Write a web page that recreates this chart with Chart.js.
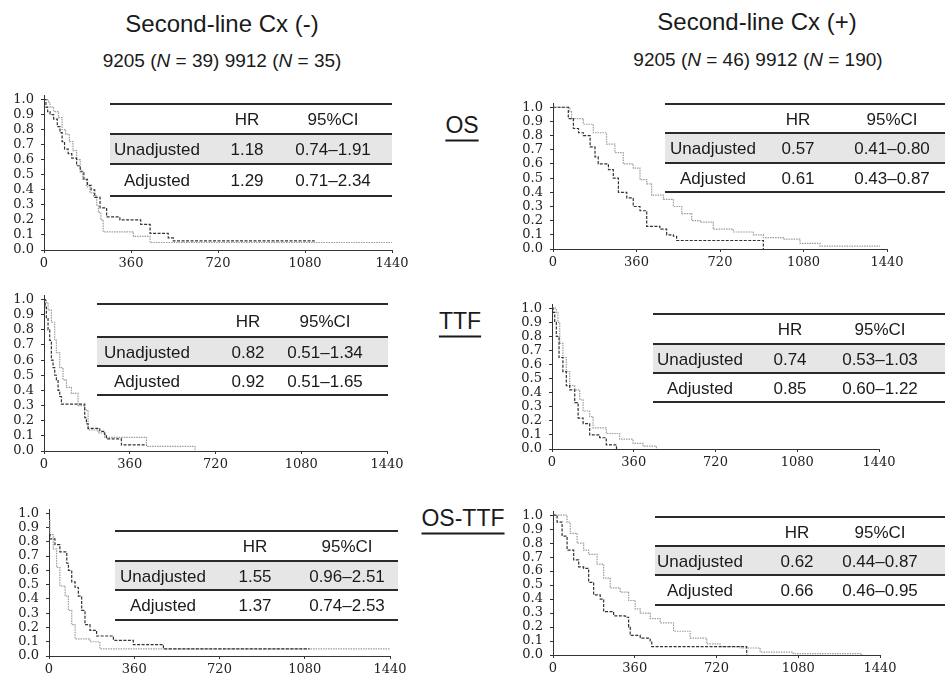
<!DOCTYPE html>
<html>
<head>
<meta charset="utf-8">
<script src="https://cdn.jsdelivr.net/npm/chart.js@4.4.1/dist/chart.umd.min.js"></script>
<style>
  html, body { margin: 0; padding: 0; background: #fff; }
  #page { position: relative; width: 952px; height: 678px; overflow: hidden; background: #fff;
          font-family: "Liberation Sans", Arial, sans-serif; color: #1a1a1a; }
  .c { position: absolute; transform: translate(-50%, -50%); white-space: nowrap; line-height: 1; }
  .title { font-size: 24px; }
  .sub { font-size: 19px; }
  .lab { font-size: 23px; text-decoration: underline; text-decoration-thickness: 2px; text-underline-offset: 7px; }
  .tbl { position: absolute; }
  .hl { position: absolute; left: 0; right: 0; height: 2px; background: #2a2a2a; }
  .shade { position: absolute; left: 0; right: 0; background: #e6e6e6; }
  .tc { position: absolute; transform: translate(-50%, -50%); white-space: nowrap; line-height: 1; font-size: 17px; }
  canvas { position: absolute; }
</style>
</head>
<body>
<div id="page"></div>
<script>
// ---------------- DATA ----------------
const xTicks = [0, 360, 720, 1080, 1440];
const yTicks = [0, 0.1, 0.2, 0.3, 0.4, 0.5, 0.6, 0.7, 0.8, 0.9, 1.0];

const columnTitles = ['Second-line Cx (-)', 'Second-line Cx (+)'];
const columnSubtitles = ['9205 (<i>N</i> = 39) 9912 (<i>N</i> = 35)', '9205 (<i>N</i> = 46) 9912 (<i>N</i> = 190)'];
const rowLabels = ['OS', 'TTF', 'OS-TTF'];

const tableHeader = ['HR', '95%CI'];
const tableRowNames = ['Unadjusted', 'Adjusted'];
const hrUnadjusted = ['1.18', '0.57', '0.82', '0.74', '1.55', '0.62'];
const ciUnadjusted = ['0.74–1.91', '0.41–0.80', '0.51–1.34', '0.53–1.03', '0.96–2.51', '0.44–0.87'];
const hrAdjusted   = ['1.29', '0.61', '0.92', '0.85', '1.37', '0.66'];
const ciAdjusted   = ['0.71–2.34', '0.43–0.87', '0.51–1.65', '0.60–1.22', '0.74–2.53', '0.46–0.95'];

// OS, second-line Cx (-)
const osNegDarkT  = [0, 8, 15, 25, 40, 55, 66, 75, 85, 100, 115, 135, 150, 165, 180, 195, 210, 232, 259, 314, 400, 439, 514, 535, 1120];
const osNegDarkS  = [1.0, 0.95, 0.92, 0.9, 0.87, 0.82, 0.78, 0.72, 0.67, 0.64, 0.61, 0.56, 0.52, 0.47, 0.43, 0.4, 0.35, 0.28, 0.22, 0.2, 0.17, 0.11, 0.08, 0.06, 0.06];
const osNegLightT = [0, 18, 25, 40, 60, 75, 90, 105, 120, 135, 150, 160, 176, 190, 205, 218, 225, 235, 245, 370, 439, 1440];
const osNegLightS = [1.0, 0.98, 0.95, 0.92, 0.88, 0.8, 0.77, 0.72, 0.66, 0.6, 0.53, 0.47, 0.42, 0.38, 0.36, 0.3, 0.25, 0.2, 0.12, 0.09, 0.05, 0.05];

// OS, second-line Cx (+)
const osPosDarkT  = [0, 66, 88, 110, 131, 160, 181, 195, 239, 260, 282, 318, 346, 375, 404, 461, 490, 519, 533, 907];
const osPosDarkS  = [1.0, 0.92, 0.85, 0.82, 0.8, 0.72, 0.65, 0.6, 0.56, 0.5, 0.4, 0.36, 0.3, 0.27, 0.16, 0.14, 0.1, 0.09, 0.06, 0.0];
const osPosLightT = [0, 73, 80, 131, 174, 231, 267, 303, 346, 375, 404, 425, 476, 519, 555, 598, 634, 691, 777, 864, 907, 993, 1065, 1151, 1410];
const osPosLightS = [1.0, 0.97, 0.92, 0.88, 0.82, 0.74, 0.68, 0.6, 0.57, 0.49, 0.46, 0.38, 0.35, 0.3, 0.25, 0.2, 0.19, 0.14, 0.12, 0.1, 0.08, 0.07, 0.04, 0.02, 0.02];

// TTF, second-line Cx (-)
const ttfNegDarkT  = [0, 5, 10, 17, 24, 31, 38, 45, 52, 59, 66, 73, 171, 178, 185, 234, 255, 262, 325, 430];
const ttfNegDarkS  = [1.0, 0.95, 0.88, 0.8, 0.73, 0.6, 0.55, 0.5, 0.47, 0.4, 0.36, 0.31, 0.22, 0.18, 0.15, 0.13, 0.1, 0.08, 0.04, 0.04];
const ttfNegLightT = [0, 10, 17, 31, 45, 52, 66, 80, 94, 115, 143, 171, 185, 227, 255, 430, 634];
const ttfNegLightS = [1.0, 0.98, 0.93, 0.85, 0.73, 0.65, 0.55, 0.47, 0.42, 0.38, 0.3, 0.27, 0.14, 0.12, 0.09, 0.03, 0.0];

// TTF, second-line Cx (+)
const ttfPosDarkT  = [0, 5, 12, 19, 31, 48, 63, 78, 100, 115, 137, 166, 210, 239, 284];
const ttfPosDarkS  = [1.0, 0.97, 0.9, 0.8, 0.65, 0.55, 0.45, 0.42, 0.33, 0.22, 0.18, 0.1, 0.08, 0.03, 0.0];
const ttfPosLightT = [0, 19, 26, 34, 48, 63, 78, 100, 122, 137, 166, 181, 239, 298, 357, 401, 460];
const ttfPosLightS = [1.0, 0.97, 0.9, 0.75, 0.65, 0.55, 0.45, 0.42, 0.35, 0.27, 0.23, 0.15, 0.11, 0.07, 0.04, 0.02, 0.0];

// OS-TTF, second-line Cx (-)
const osttfNegDarkT  = [0, 4, 25, 46, 75, 82, 96, 110, 124, 138, 152, 173, 201, 272, 356, 483, 1100];
const osttfNegDarkS  = [0.85, 0.82, 0.78, 0.73, 0.65, 0.6, 0.52, 0.48, 0.42, 0.32, 0.22, 0.18, 0.14, 0.11, 0.08, 0.05, 0.05];
const osttfNegLightT = [0, 4, 18, 32, 46, 68, 82, 96, 110, 173, 215, 1440];
const osttfNegLightS = [0.95, 0.85, 0.75, 0.62, 0.49, 0.42, 0.32, 0.22, 0.12, 0.1, 0.05, 0.05];

// OS-TTF, second-line Cx (+)
const osttfPosDarkT  = [0, 18, 40, 62, 91, 113, 135, 157, 179, 208, 223, 267, 318, 333, 340, 384, 428, 435, 853];
const osttfPosDarkS  = [1.0, 0.95, 0.85, 0.75, 0.68, 0.63, 0.62, 0.52, 0.43, 0.4, 0.31, 0.28, 0.27, 0.2, 0.14, 0.12, 0.1, 0.06, 0.0];
const osttfPosLightT = [0, 62, 76, 106, 135, 157, 194, 223, 252, 296, 333, 362, 384, 428, 472, 531, 604, 677, 736, 824, 912, 1058, 1359];
const osttfPosLightS = [1.0, 0.95, 0.87, 0.8, 0.75, 0.72, 0.65, 0.55, 0.48, 0.45, 0.39, 0.33, 0.3, 0.26, 0.23, 0.17, 0.12, 0.08, 0.06, 0.05, 0.02, 0.01, 0.0];

// ---------------- LAYOUT ----------------
const page = document.getElementById('page');
function addText(cls, html, cx, cy) {
  const d = document.createElement('div');
  d.className = 'c ' + cls;
  d.innerHTML = html;
  d.style.left = cx + 'px';
  d.style.top = cy + 'px';
  page.appendChild(d);
}
addText('title', columnTitles[0], 222, 24);
addText('sub', columnSubtitles[0], 222, 60);
addText('title', columnTitles[1], 757, 22);
addText('sub', columnSubtitles[1], 758, 59);
addText('lab', rowLabels[0], 462, 125);
addText('lab', rowLabels[1], 460, 321);
addText('lab', rowLabels[2], 463, 518);

const panels = [
  { dark: [osNegDarkT, osNegDarkS], light: [osNegLightT, osNegLightS], g: { x0: 44, x1: 392, y1: 99, y0: 249 },
    t: { left: 110, right: 392, lines: [104, 134, 164, 196], cols: [47, 137, 223] } },
  { dark: [osPosDarkT, osPosDarkS], light: [osPosLightT, osPosLightS], g: { x0: 553, x1: 887, y1: 107, y0: 249 },
    t: { left: 665, right: 945, lines: [104, 133, 163, 192], cols: [48, 133, 227] } },
  { dark: [ttfNegDarkT, ttfNegDarkS], light: [ttfNegLightT, ttfNegLightS], g: { x0: 44, x1: 387, y1: 300, y0: 451 },
    t: { left: 97, right: 388, lines: [304, 337, 366, 395], cols: [50, 151, 228] } },
  { dark: [ttfPosDarkT, ttfPosDarkS], light: [ttfPosLightT, ttfPosLightS], g: { x0: 552, x1: 879, y1: 308, y0: 449 },
    t: { left: 653, right: 945, lines: [314, 344, 373, 402], cols: [47, 137, 227] } },
  { dark: [osttfNegDarkT, osttfNegDarkS], light: [osttfNegLightT, osttfNegLightS], g: { x0: 49, x1: 390, y1: 513, y0: 656 },
    t: { left: 115, right: 398, lines: [531, 561, 590, 620], cols: [48, 140, 232] } },
  { dark: [osttfPosDarkT, osttfPosDarkS], light: [osttfPosLightT, osttfPosLightS], g: { x0: 553, x1: 880, y1: 515, y0: 655 },
    t: { left: 655, right: 945, lines: [517, 546, 575, 605], cols: [45, 142, 225] } }
];

const Y_AXIS_W = 44, X_AXIS_H = 22, PAD_TOP = 20, PAD_RIGHT = 24, YMAX = 1.03;
const tickFont = { family: "'DejaVu Serif', 'Liberation Serif', serif", size: 13 };

function pts(T, S) { return T.map((t, i) => ({ x: t, y: S[i] })); }

panels.forEach((p, idx) => {
  const g = p.g;
  const unit = g.y0 - g.y1;
  const yTopAxis = g.y1 - (YMAX - 1) * unit;
  const cv = document.createElement('canvas');
  const W = Y_AXIS_W + (g.x1 - g.x0) + PAD_RIGHT;
  const H = PAD_TOP + (g.y0 - yTopAxis) + X_AXIS_H;
  cv.width = Math.round(W); cv.height = Math.round(H);
  cv.style.width = Math.round(W) + 'px'; cv.style.height = Math.round(H) + 'px';
  cv.style.left = (g.x0 - Y_AXIS_W) + 'px';
  cv.style.top = Math.round(yTopAxis - PAD_TOP) + 'px';
  page.appendChild(cv);

  new Chart(cv.getContext('2d'), {
    type: 'line',
    data: {
      datasets: [
        { data: pts(p.dark[0], p.dark[1]), stepped: true, borderColor: '#333333', borderWidth: 1.2,
          borderDash: [3, 1.5], pointRadius: 0, fill: false },
        { data: pts(p.light[0], p.light[1]), stepped: true, borderColor: '#9c9c9c', borderWidth: 1.2,
          borderDash: [1.5, 1], pointRadius: 0, fill: false }
      ]
    },
    options: {
      responsive: false, animation: false, devicePixelRatio: 1,
      layout: { padding: { top: PAD_TOP, right: PAD_RIGHT, left: 0, bottom: 0 } },
      plugins: { legend: { display: false }, tooltip: { enabled: false } },
      scales: {
        x: {
          type: 'linear', min: 0, max: 1440,
          afterBuildTicks: s => { s.ticks = xTicks.map(v => ({ value: v })); },
          afterFit: s => { s.height = X_AXIS_H; },
          ticks: { font: tickFont, color: '#222', padding: 3, maxRotation: 0, autoSkip: false,
                   callback: v => String(v) },
          grid: { drawOnChartArea: false, drawTicks: true, tickLength: 3, color: '#333' },
          border: { color: '#333', width: 1 }
        },
        y: {
          type: 'linear', min: 0, max: YMAX,
          afterBuildTicks: s => { s.ticks = yTicks.map(v => ({ value: v })); },
          afterFit: s => { s.width = Y_AXIS_W; },
          ticks: { font: tickFont, color: '#222', padding: 7, autoSkip: false,
                   callback: v => Number(v).toFixed(1) },
          grid: { drawOnChartArea: false, drawTicks: true, tickLength: 3, color: '#333' },
          border: { color: '#333', width: 1 }
        }
      }
    }
  });

  // table
  const t = p.t;
  const tb = document.createElement('div');
  tb.className = 'tbl';
  const top = t.lines[0];
  tb.style.left = t.left + 'px';
  tb.style.top = top + 'px';
  tb.style.width = (t.right - t.left) + 'px';
  tb.style.height = (t.lines[3] - top) + 'px';
  const shade = document.createElement('div');
  shade.className = 'shade';
  shade.style.top = (t.lines[1] - top + 1) + 'px';
  shade.style.height = (t.lines[2] - t.lines[1] - 2) + 'px';
  tb.appendChild(shade);
  t.lines.forEach(ly => {
    const l = document.createElement('div');
    l.className = 'hl';
    l.style.top = (ly - top - 1) + 'px';
    tb.appendChild(l);
  });
  const cells = [
    [null, tableHeader[0], tableHeader[1]],
    [tableRowNames[0], hrUnadjusted[idx], ciUnadjusted[idx]],
    [tableRowNames[1], hrAdjusted[idx], ciAdjusted[idx]]
  ];
  cells.forEach((row, r) => {
    const cy = (t.lines[r] + t.lines[r + 1]) / 2 - top;
    row.forEach((txt, c) => {
      if (txt === null) return;
      const d = document.createElement('div');
      d.className = 'tc';
      d.textContent = txt;
      d.style.left = t.cols[c] + 'px';
      d.style.top = cy + 'px';
      tb.appendChild(d);
    });
  });
  page.appendChild(tb);
});
</script>
</body>
</html>
